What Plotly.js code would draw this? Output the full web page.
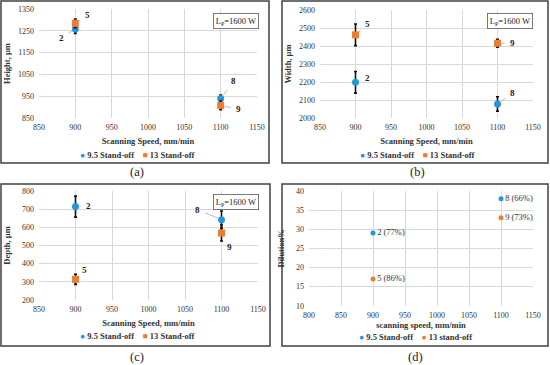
<!DOCTYPE html>
<html><head><meta charset="utf-8">
<script src="https://cdn.plot.ly/plotly-3.0.1.min.js"></script>
<style>html,body{margin:0;padding:0;background:#fff}#c{width:550px;height:365px}</style>
</head><body><div id="c"></div>
<script>
const speeds = [900, 1100];
const seriesNames = ['9.5 Stand-off', '13 Stand-off'];
const seriesNamesD = ['9.5 Stand-off', '13 stand-off'];
const runLabels95 = ['2', '8'];
const runLabels13 = ['5', '9'];
const height95 = [1258, 940], height95Err = [20, 15];
const height13 = [1284, 908], height13Err = [20, 20];
const width95 = [2198, 2078], width95Err = [60, 40];
const width13 = [2462, 2415], width13Err = [60, 22];
const depth95 = [714, 642], depth95Err = [58, 48];
const depth13 = [314, 569], depth13Err = [28, 44];
const dilution95 = [29, 38];
const dilution13 = [17, 33];
const dilLabels95 = ['2 (77%)', '8 (66%)'];
const dilLabels13 = ['5 (86%)', '9 (73%)'];

const BLUE = '#2596D8', ORANGE = '#EE7D31';
const FONT = '"Liberation Serif", "DejaVu Serif", serif';
const W = 550, H = 365;
const px = v => v / W, py = v => 1 - v / H;

function errTrace(y, err, name, color, symbol, xa, ya) {
  return {x: speeds, y: y, type: 'scatter', mode: 'markers', name: name,
    xaxis: xa, yaxis: ya, showlegend: false,
    marker: {color: color, symbol: symbol, size: 7},
    error_y: {type: 'data', array: err, visible: true, color: '#111', thickness: 1.6, width: 1.5}};
}
const traces = [
  errTrace(height95, height95Err, seriesNames[0], BLUE, 'circle', 'x', 'y'),
  errTrace(height13, height13Err, seriesNames[1], ORANGE, 'square', 'x', 'y'),
  errTrace(width95, width95Err, seriesNames[0], BLUE, 'circle', 'x2', 'y2'),
  errTrace(width13, width13Err, seriesNames[1], ORANGE, 'square', 'x2', 'y2'),
  errTrace(depth95, depth95Err, seriesNames[0], BLUE, 'circle', 'x3', 'y3'),
  errTrace(depth13, depth13Err, seriesNames[1], ORANGE, 'square', 'x3', 'y3'),
  {x: speeds, y: dilution95, type: 'scatter', mode: 'markers+text', name: seriesNamesD[0],
   text: dilLabels95, textposition: 'middle right', textfont: {family: FONT, size: 8.5, color: '#333'},
   xaxis: 'x4', yaxis: 'y4', showlegend: false, marker: {color: BLUE, size: 5}},
  {x: speeds, y: dilution13, type: 'scatter', mode: 'markers+text', name: seriesNamesD[1],
   text: dilLabels13, textposition: 'middle right', textfont: {family: FONT, size: 8.5, color: '#333'},
   xaxis: 'x4', yaxis: 'y4', showlegend: false, marker: {color: ORANGE, size: 5}}
];

function xax(domain, range, anchor, title, standoff) {
  return {domain: domain, range: range, anchor: anchor, dtick: 50, tick0: 800,
    showgrid: true, gridcolor: '#D9D9D9', gridwidth: 1, zeroline: false, showline: false,
    ticks: '', ticklabelstandoff: 3, tickfont: {family: FONT, size: 8, color: '#333'},
    title: {text: title, font: {family: FONT, size: 8.5, color: '#333', weight: 'bold'}, standoff: standoff}};
}
function yax(domain, range, anchor, dtick, tick0, title, standoff) {
  return {domain: domain, range: range, anchor: anchor, dtick: dtick, tick0: tick0,
    showgrid: true, gridcolor: '#D9D9D9', gridwidth: 1, zeroline: false, showline: false,
    ticks: '', ticklabelstandoff: 4, tickfont: {family: FONT, size: 8, color: '#333'},
    title: {text: title, font: {family: FONT, size: 8.5, color: '#333', weight: 'bold'}, standoff: standoff}};
}
const lead = '#A6A6A6';
function lbl(x, y, text, xr, yr, ax, ay) {
  return {x: x, y: y, xref: xr, yref: yr, text: text, showarrow: true, arrowhead: 0,
    arrowwidth: 0.8, arrowcolor: lead, ax: ax, ay: ay, standoff: 4, startstandoff: 4,
    font: {family: FONT, size: 9, color: '#222', weight: 'bold'}};
}
const annotations = [
  lbl(speeds[0], height95[0], runLabels95[0], 'x', 'y', -14, 9),
  lbl(speeds[0], height13[0], runLabels13[0], 'x', 'y', 12, -8),
  lbl(speeds[1], height95[1], runLabels95[1], 'x', 'y', 13, -17),
  lbl(speeds[1], height13[1], runLabels13[1], 'x', 'y', 18, 4),
  lbl(speeds[0], width13[0], runLabels13[0], 'x2', 'y2', 12, -11),
  lbl(speeds[0], width95[0], runLabels95[0], 'x2', 'y2', 12, -4),
  lbl(speeds[1], width13[1], runLabels13[1], 'x2', 'y2', 15, 0),
  lbl(speeds[1], width95[1], runLabels95[1], 'x2', 'y2', 15, -11),
  lbl(speeds[0], depth95[0], runLabels95[0], 'x3', 'y3', 13, -1),
  lbl(speeds[0], depth13[0], runLabels13[0], 'x3', 'y3', 9, -9),
  lbl(speeds[1], depth95[1], runLabels95[1], 'x3', 'y3', -24, -10),
  lbl(speeds[1], depth13[1], runLabels13[1], 'x3', 'y3', 8, 14)
];
function paperText(cx, cy, text, font, extra) {
  annotations.push(Object.assign({x: px(cx), y: py(cy), xref: 'paper', yref: 'paper', text: text,
    showarrow: false, xanchor: 'center', yanchor: 'middle', font: font}, extra || {}));
}
const lp = 'L<sub>P</sub>=1600 W';
[[235.5, 21], [510, 21], [235.5, 202]].forEach(p => paperText(p[0], p[1], lp,
  {family: FONT, size: 8.5, color: '#222'},
  {bordercolor: '#595959', borderwidth: 0.8, borderpad: 2, bgcolor: '#fff'}));
[['(a)', 137, 172], ['(b)', 417, 172], ['(c)', 137, 356.5], ['(d)', 415, 356.5]].forEach(p =>
  paperText(p[1], p[2], p[0], {family: FONT, size: 12.5, color: '#222'}));

// legends (compact, Excel style)
function legendRow(cx, cy, names, symbols) {
  const txt = `<span style="color:${BLUE}">${symbols[0]}</span> ${names[0]}    ` +
              `<span style="color:${ORANGE}">${symbols[1]}</span> ${names[1]}`;
  paperText(cx, cy, txt, {family: FONT, size: 8.5, color: '#333', weight: 'bold'});
}
legendRow(137, 155, seriesNames, ['●', '■']);
legendRow(417, 155, seriesNames, ['●', '■']);
legendRow(137, 336, seriesNames, ['●', '■']);
legendRow(415, 337, seriesNamesD, ['●', '●']);

const box = (x0, y0, x1, y1) => ({type: 'rect', xref: 'paper', yref: 'paper',
  x0: px(x0), x1: px(x1), y0: py(y0), y1: py(y1), line: {color: '#404040', width: 1.5}});

const layout = {
  width: W, height: H, margin: {l: 0, r: 0, t: 0, b: 0}, paper_bgcolor: '#fff', plot_bgcolor: '#fff',
  font: {family: FONT}, showlegend: false,
  xaxis: xax([px(39), px(257)], [850, 1150], 'y', 'Scanning Speed, mm/min', 7),
  yaxis: yax([py(118), py(9)], [850, 1350], 'x', 100, 850, 'Height, µm', 6),
  xaxis2: xax([px(320), px(533)], [850, 1150], 'y2', 'Scanning Speed, mm/min', 7),
  yaxis2: yax([py(118), py(10)], [2000, 2600], 'x2', 100, 2000, 'Width, µm', 6),
  xaxis3: xax([px(39), px(258)], [850, 1150], 'y3', 'Scanning Speed, mm/min', 7),
  yaxis3: yax([py(300), py(191)], [200, 800], 'x3', 100, 200, 'Depth, µm', 10),
  xaxis4: xax([px(309), px(533)], [800, 1150], 'y4', 'scanning speed, mm/min', 2),
  yaxis4: yax([py(305.7), py(191)], [10, 40], 'x4', 5, 10, 'Dilution%', 10),
  annotations: annotations,
  shapes: [box(1, 1, 269, 163), box(282, 1, 548, 163), box(1, 184, 270, 346), box(282, 184, 548, 346)]
};
Plotly.newPlot('c', traces, layout, {staticPlot: true, displayModeBar: false});
</script></body></html>
